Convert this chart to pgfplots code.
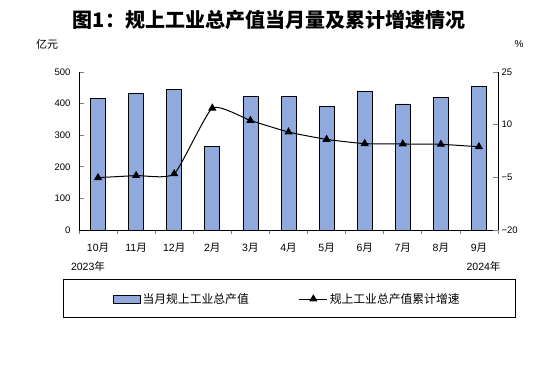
\documentclass[border=0pt]{standalone}
\usepackage{pgfplots}
\pgfplotsset{compat=1.18}
\usepackage{pgfplotstable}
\usepackage{fontspec}
\setmainfont{Liberation Sans}
\newfontfamily\cjk{Noto Sans CJK SC}
\definecolor{barblue}{RGB}{145,170,222}
\pgfplotsset{mylineleg/.style={legend image code/.code={\draw[mark repeat=2,mark phase=2,##1] plot coordinates {(0pt,0pt) (14pt,0pt) (28pt,0pt)};}}}
\pgfplotstableread{
x val growth
0 417 -5.1
1 432 -4.5
2 445 -4.0
3 265 14.7
4 423 11.2
5 423 7.9
6 391 5.8
7 439 4.6
8 399 4.5
9 420 4.4
10 455 3.7
}\data
\begin{document}
\begin{tikzpicture}[x=1pt,y=1pt]
\path[use as bounding box] (0,0) rectangle (549,390);
\node[font=\cjk\bfseries\fontsize{20}{22}\selectfont] at (269,370) {图1：规上工业总产值当月量及累计增速情况};
\node[font=\cjk\fontsize{11}{12}\selectfont] at (47,346) {亿元};
\node[font=\fontsize{10}{12}\selectfont] at (519,346) {\%};
\node[font=\fontsize{10.5}{12}\selectfont] at (88,124) {2023{\cjk 年}};
\node[font=\fontsize{10.5}{12}\selectfont] at (483.5,124) {2024{\cjk 年}};
\draw[line width=0.8pt] (63.3,72.7) rectangle (515.3,110.7);
\begin{axis}[at={(79pt,160pt)}, anchor=south west, width=419pt, height=158pt, scale only axis,
  xmin=-0.5, xmax=10.5, ymin=0, ymax=500,
  axis x line*=bottom, axis y line*=left,
  axis line style={line width=0.8pt},
  tick align=inside,
  ytick={0,100,...,500}, major tick length=5pt,
  ytick style={line width=0.8pt},
  xtick={0,...,10},
  xticklabels={10{\cjk 月},11{\cjk 月},12{\cjk 月},2{\cjk 月},3{\cjk 月},4{\cjk 月},5{\cjk 月},6{\cjk 月},7{\cjk 月},8{\cjk 月},9{\cjk 月}},
  major x tick style={draw=none},
  minor xtick={-0.5,0.5,...,10.5},
  minor x tick style={line width=0.8pt},
  minor tick length=4pt,
  xticklabel style={font=\fontsize{10.5}{12}\selectfont, yshift=-5pt},
  yticklabel style={font=\fontsize{9.5}{11}\selectfont, xshift=-5pt},
  /pgf/number format/assume math mode=true,
  ybar, bar width=15pt,
  clip=false]
\addplot[fill=barblue, draw=black, line width=0.8pt] table[x=x,y=val]{\data};
\end{axis}
\begin{axis}[at={(79pt,160pt)}, anchor=south west, width=419pt, height=158pt, scale only axis,
  xmin=-0.5, xmax=10.5, ymin=-20, ymax=25,
  axis x line=none, axis y line*=right,
  axis line style={line width=0.8pt},
  tick align=inside, major tick length=5pt,
  ytick={-20,-5,10,25},
  yticklabels={−20,−5,10,25},
  ytick style={line width=0.8pt},
  yticklabel style={font=\fontsize{9.5}{11}\selectfont},
  legend style={at={(0.497,-0.437)}, anchor=center, draw=none, fill=none,
    legend columns=2, font=\cjk\fontsize{11.8}{13}\selectfont,
    /tikz/every even column/.append style={column sep=48pt}},
  clip=false]
\addlegendimage{legend image code/.code={\draw[fill=barblue,draw=black,line width=0.8pt] (0pt,-4pt) rectangle (27pt,4pt);}}
\addlegendentry{当月规上工业总产值}
\addplot[black, line width=1pt, smooth, tension=0.3, mark=triangle*, mark size=3.8pt, mylineleg]
  table[x=x,y=growth]{\data};
\addlegendentry{规上工业总产值累计增速}
\end{axis}
\end{tikzpicture}
\end{document}
